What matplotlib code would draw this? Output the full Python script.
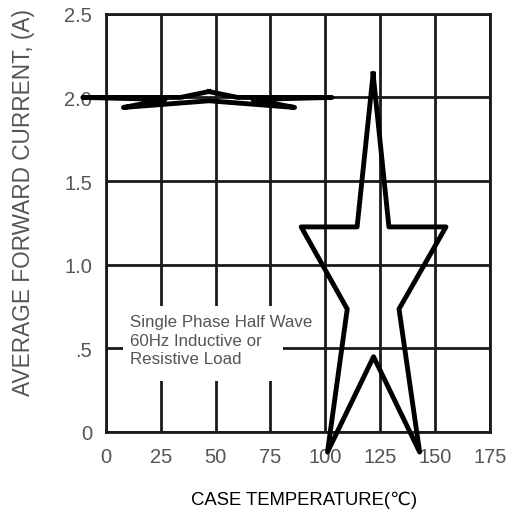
import matplotlib
matplotlib.use("Agg")
import matplotlib.pyplot as plt

plt.rcParams['font.family'] = ['Liberation Sans', 'DejaVu Sans']

# eixos
x_ticks = [0, 25, 50, 75, 100, 125, 150, 175]
x_labels = ['0', '25', '50', '75', '100', '125', '150', '175']
y_ticks = [0, 0.5, 1.0, 1.5, 2.0, 2.5]
y_labels = ['0', '.5', '1.0', '1.5', '2.0', '2.5']

# estrela grande (contorno)
star_x = [121.8, 129, 155, 133.6, 143, 122, 101, 110, 89, 114.5, 121.8]
star_y = [2.14, 1.226, 1.226, 0.735, -0.12, 0.45, -0.12, 0.735, 1.226, 1.226, 2.14]

# estrela achatada em torno de 2.0
flat_x = [47, 60, 103, 67, 86, 47, 8, 27, -10.5, 34, 47]
flat_y = [2.035, 2.0, 2.0, 1.988, 1.94, 1.98, 1.94, 1.988, 2.0, 2.0, 2.035]

nota = "Single Phase Half Wave\n60Hz Inductive or\nResistive Load"

fig = plt.figure(figsize=(5.14, 5.10), dpi=100)
ax = fig.add_axes([0.206, 0.151, 0.747, 0.820])

ax.set_xlim(0, 175)
ax.set_ylim(0, 2.5)
ax.set_xticks(x_ticks)
ax.set_xticklabels(x_labels)
ax.set_yticks(y_ticks)
ax.set_yticklabels(y_labels)
ax.tick_params(length=0, labelsize=14.5, labelcolor='#555555')
ax.tick_params(axis='y', pad=10)
ax.tick_params(axis='x', pad=11)
ax.grid(True, color='#1a1a1a', linewidth=2.0)
for s in ax.spines.values():
    s.set_color('#1a1a1a')
    s.set_linewidth(2.0)

# caixa branca do texto
ax.fill_between([7.7, 80.5], 0.305, 0.754, color='white', zorder=2.5, linewidth=0)
ax.text(11, 0.705, nota, fontsize=12.2, color='#555555', va='top', ha='left',
        linespacing=1.3, zorder=3)

ax.plot(flat_x, flat_y, color='black', linewidth=3.5, clip_on=False, zorder=4)
ax.plot(star_x, star_y, color='black', linewidth=3.5, clip_on=False, zorder=4)

ax.set_ylabel('AVERAGE FORWARD CURRENT, (A)', fontsize=16.3, color='#555555')
ax.yaxis.set_label_coords(-0.185, 0.55)
ax.set_xlabel('CASE TEMPERATURE(℃)', fontsize=13.3, color='black')
ax.xaxis.set_label_coords(0.516, -0.141)

fig.savefig('out.png', dpi=100)
